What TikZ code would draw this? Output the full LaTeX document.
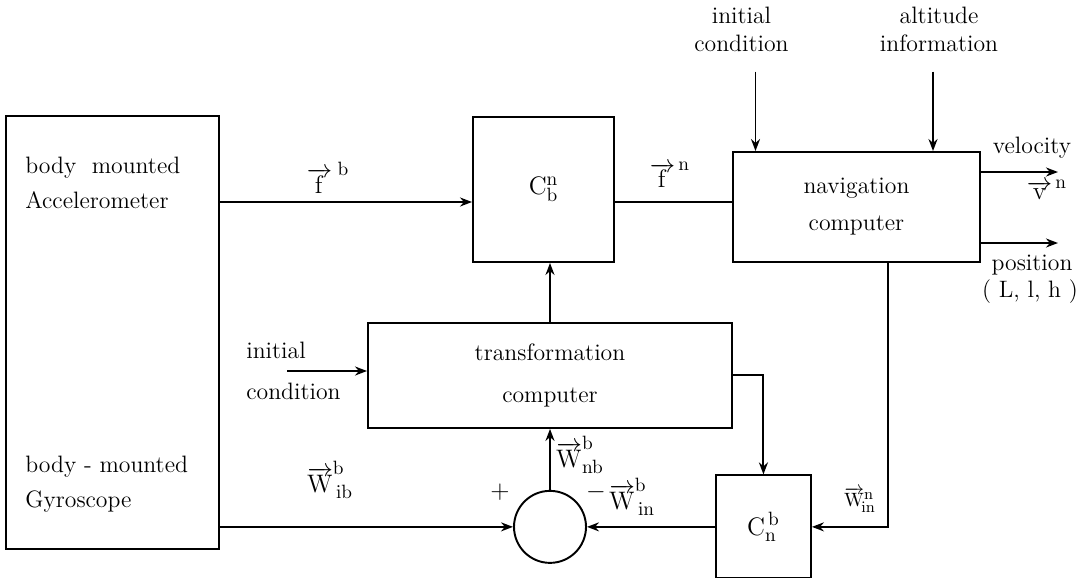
\documentclass[tikz,border=0pt]{standalone}
\usepackage{tikz}
\usetikzlibrary{arrows.meta,positioning,calc}
\DeclareMathSizes{13.5}{13.5}{11}{9}
\DeclareMathSizes{11}{11}{9}{7}

\begin{document}
\begin{tikzpicture}[every node/.style={font=\fontsize{13.5}{20}\selectfont},
  block/.style={draw, line width=1.1pt, inner sep=0pt, align=center},
  arr/.style={-{Stealth[length=2.4mm,width=1.8mm]}, line width=1.1pt},
  wire/.style={line width=1.1pt}]
\useasboundingbox (0,0) rectangle (21.68,-11.54);
% blocks
\node[block, minimum width=4.26cm, minimum height=8.66cm] (sensor) at (2.25,-6.65) {};
\node[block, minimum width=2.82cm, minimum height=2.9cm] (cbn) at (10.87,-3.79) {$\mathrm{C}^{\mathrm{n}}_{\mathrm{b}}$};
\node[block, minimum width=4.94cm, minimum height=2.2cm, right=2.34cm of cbn, yshift=-0.35cm] (nav) {navigation\\[1pt]computer};
\node[block, minimum width=7.28cm, minimum height=2.1cm, below=1.18cm of cbn, xshift=0.13cm] (trans) {transformation\\[4pt]computer};
\node[draw, circle, line width=1.1pt, minimum size=1.44cm, inner sep=0pt, below=1.22cm of trans] (sum) {};
\node[block, minimum width=1.9cm, minimum height=2.06cm, right=2.56cm of sum] (cnb) {$\mathrm{C}^{\,\mathrm{b}}_{\mathrm{n}}$};
% texts
\node[anchor=west, align=left, inner sep=0pt] (accel) at (0.5,-3.65) {body\ \ mounted\\Accelerometer};
\node[anchor=west, align=left, inner sep=0pt] (gyro) at (0.5,-9.68) {body - mounted\\Gyroscope};
\node[align=left, anchor=west, inner sep=0pt] (icleft) at (4.92,-7.42) {initial\\[3pt]condition};
\node[align=center, font=\fontsize{13.5}{16}\selectfont] (icnav) at (14.83,-0.58) {initial\\condition};
\node[align=center, font=\fontsize{13.5}{16}\selectfont] (alt) at (18.78,-0.58) {altitude\\information};
\node (vel) at (20.64,-2.96) {velocity};
\node (vn) at (20.94,-3.8) {$\overrightarrow{\mathrm{v}}^{\,\mathrm{n}}$};
\node (pos) at (20.64,-5.3) {position};
\node (llh) at (20.6,-5.84) {( L, l, h )};
\node (fb) at (6.56,-3.56) {$\overrightarrow{\mathrm{f}}^{\;\mathrm{b}}$};
\node (fn) at (13.4,-3.5) {$\overrightarrow{\mathrm{f}}^{\,\mathrm{n}}$};
\node (wib) at (6.6,-9.6) {$\overrightarrow{\mathrm{W}}^{\mathrm{b}}_{\,\mathrm{ib}}$};
\node (wnb) at (11.6,-9.1) {$\overrightarrow{\mathrm{W}}^{\mathrm{b}}_{\mathrm{nb}}$};
\node (win) at (12.64,-9.94) {$\overrightarrow{\mathrm{W}}^{\mathrm{b}}_{\,\mathrm{in}}$};
\node[font=\fontsize{11}{13}\selectfont] (winn) at (17.2,-10.0) {$\overrightarrow{\mathrm{W}}{}^{\mathrm{n}}_{\!\mathrm{in}}$};
\node (plus) at (10.0,-9.84) {$+$};
\node (minus) at (11.92,-9.84) {$-$};
% connectors
\coordinate (fbin) at ([yshift=-0.25cm]cbn.west);
\coordinate (ictail) at (5.74,-7.42);
\coordinate (velend) at (21.16,-3.44);
\coordinate (posend) at (21.16,-4.86);
\coordinate (navtap) at ([xshift=0.63cm]nav.south);
\draw[arr] (sensor.east |- fbin) -- (fbin);
\draw[wire] (cbn.east |- fbin) -- (nav.west |- fbin);
\draw[arr] ([xshift=0.28cm,yshift=-0.28cm]icnav.south) -- ([xshift=0.28cm]icnav.south |- nav.north);
\draw[arr] ([xshift=-0.12cm,yshift=-0.28cm]alt.south) -- ([xshift=-0.12cm]alt.south |- nav.north);
\draw[arr] (nav.east |- velend) -- (velend);
\draw[arr] (nav.east |- posend) -- (posend);
\draw[arr] (ictail) -- (ictail -| trans.west);
\draw[arr] (trans.north) -- (cbn.south -| trans.north);
\draw[arr] (sum.north) -- (trans.south);
\draw[arr] (trans.east) -| (cnb.north);
\draw[arr] (navtap) |- (cnb.east);
\draw[arr] (cnb.west) -- (sum.east);
\draw[arr] (sensor.east |- sum.west) -- (sum.west);
\end{tikzpicture}
\end{document}
